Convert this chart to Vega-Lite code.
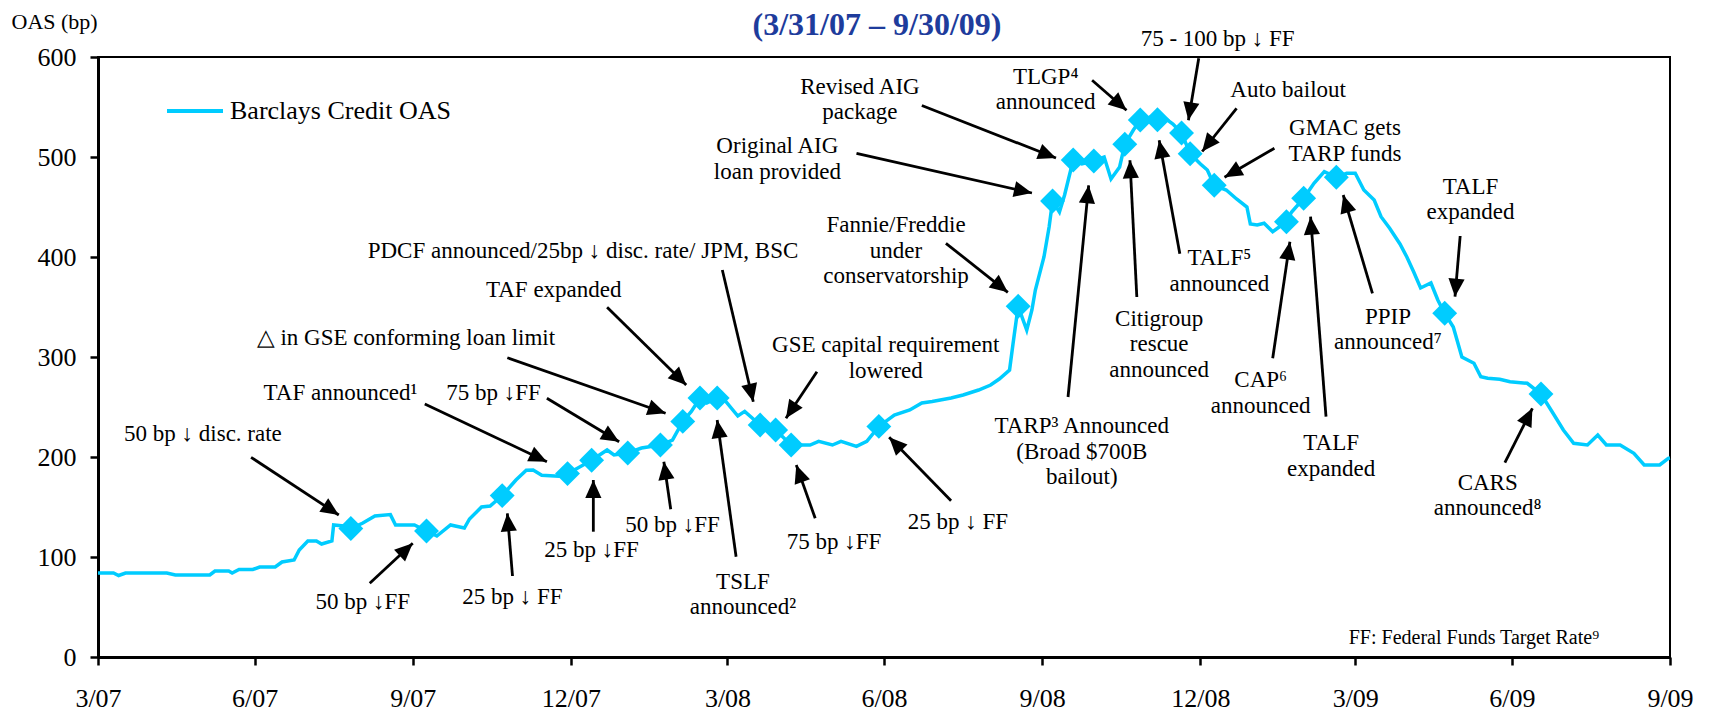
{
  "$schema": "https://vega.github.io/schema/vega-lite/v6.json",
  "width": 1572,
  "height": 600,
  "autosize": {"type": "none"},
  "padding": {"left": 98, "top": 57, "right": 39, "bottom": 56},
  "background": "white",
  "config": {
    "view": {"stroke": "black", "strokeWidth": 2},
    "font": "Liberation Serif"
  },
  "title": {
    "text": "(3/31/07 – 9/30/09)",
    "frame": "group",
    "font": "Liberation Serif",
    "fontSize": 32,
    "fontWeight": "bold",
    "color": "#1E3C9C",
    "anchor": "middle",
    "dx": -7,
    "offset": 14,
    "dy": 46
  },
  "datasets": {
    "oas": [
      {"date": "2007-03-31", "oas": 84},
      {"date": "2007-04-09", "oas": 84},
      {"date": "2007-04-12", "oas": 81.5},
      {"date": "2007-04-16", "oas": 84},
      {"date": "2007-04-28", "oas": 84},
      {"date": "2007-05-10", "oas": 84},
      {"date": "2007-05-15", "oas": 82},
      {"date": "2007-06-04", "oas": 82},
      {"date": "2007-06-07", "oas": 86},
      {"date": "2007-06-15", "oas": 86},
      {"date": "2007-06-17", "oas": 84},
      {"date": "2007-06-21", "oas": 87.5},
      {"date": "2007-06-29", "oas": 87.5},
      {"date": "2007-07-03", "oas": 90},
      {"date": "2007-07-12", "oas": 90},
      {"date": "2007-07-16", "oas": 95},
      {"date": "2007-07-23", "oas": 97},
      {"date": "2007-07-26", "oas": 107},
      {"date": "2007-07-31", "oas": 116},
      {"date": "2007-08-05", "oas": 116},
      {"date": "2007-08-08", "oas": 113},
      {"date": "2007-08-14", "oas": 116},
      {"date": "2007-08-15", "oas": 132},
      {"date": "2007-08-21", "oas": 131},
      {"date": "2007-08-25", "oas": 128.5},
      {"date": "2007-09-01", "oas": 134},
      {"date": "2007-09-08", "oas": 141},
      {"date": "2007-09-17", "oas": 142.4},
      {"date": "2007-09-20", "oas": 132},
      {"date": "2007-10-01", "oas": 132},
      {"date": "2007-10-08", "oas": 126},
      {"date": "2007-10-14", "oas": 121},
      {"date": "2007-10-22", "oas": 132},
      {"date": "2007-10-30", "oas": 129},
      {"date": "2007-11-02", "oas": 138},
      {"date": "2007-11-09", "oas": 150},
      {"date": "2007-11-14", "oas": 151},
      {"date": "2007-11-21", "oas": 161.4},
      {"date": "2007-11-29", "oas": 177},
      {"date": "2007-12-05", "oas": 186.7},
      {"date": "2007-12-09", "oas": 187},
      {"date": "2007-12-14", "oas": 181.7},
      {"date": "2007-12-24", "oas": 180.7},
      {"date": "2007-12-29", "oas": 183.4},
      {"date": "2008-01-04", "oas": 189},
      {"date": "2008-01-12", "oas": 196.7},
      {"date": "2008-01-21", "oas": 207},
      {"date": "2008-01-25", "oas": 202},
      {"date": "2008-02-02", "oas": 204},
      {"date": "2008-02-10", "oas": 209},
      {"date": "2008-02-21", "oas": 212},
      {"date": "2008-02-28", "oas": 217},
      {"date": "2008-03-05", "oas": 235.6},
      {"date": "2008-03-10", "oas": 245.6},
      {"date": "2008-03-15", "oas": 259},
      {"date": "2008-03-19", "oas": 254},
      {"date": "2008-03-25", "oas": 259},
      {"date": "2008-03-30", "oas": 255.6},
      {"date": "2008-04-06", "oas": 241},
      {"date": "2008-04-10", "oas": 245.6},
      {"date": "2008-04-19", "oas": 232},
      {"date": "2008-04-28", "oas": 227},
      {"date": "2008-05-07", "oas": 212},
      {"date": "2008-05-18", "oas": 212},
      {"date": "2008-05-23", "oas": 215.6},
      {"date": "2008-05-31", "oas": 212},
      {"date": "2008-06-05", "oas": 215.6},
      {"date": "2008-06-14", "oas": 210.6},
      {"date": "2008-06-20", "oas": 215.6},
      {"date": "2008-06-27", "oas": 230.6},
      {"date": "2008-07-06", "oas": 242},
      {"date": "2008-07-15", "oas": 247},
      {"date": "2008-07-22", "oas": 254},
      {"date": "2008-07-28", "oas": 255.6},
      {"date": "2008-08-08", "oas": 259},
      {"date": "2008-08-15", "oas": 262},
      {"date": "2008-08-24", "oas": 267},
      {"date": "2008-08-31", "oas": 272},
      {"date": "2008-09-05", "oas": 278},
      {"date": "2008-09-11", "oas": 287},
      {"date": "2008-09-13", "oas": 313},
      {"date": "2008-09-16", "oas": 350.7},
      {"date": "2008-09-21", "oas": 327},
      {"date": "2008-09-24", "oas": 347},
      {"date": "2008-09-26", "oas": 367},
      {"date": "2008-10-01", "oas": 400},
      {"date": "2008-10-04", "oas": 430},
      {"date": "2008-10-06", "oas": 456},
      {"date": "2008-10-10", "oas": 445},
      {"date": "2008-10-13", "oas": 462},
      {"date": "2008-10-17", "oas": 490},
      {"date": "2008-10-18", "oas": 497},
      {"date": "2008-10-23", "oas": 493},
      {"date": "2008-10-30", "oas": 496},
      {"date": "2008-11-05", "oas": 500},
      {"date": "2008-11-09", "oas": 478},
      {"date": "2008-11-14", "oas": 490},
      {"date": "2008-11-17", "oas": 512.7},
      {"date": "2008-11-22", "oas": 527},
      {"date": "2008-11-26", "oas": 537},
      {"date": "2008-12-02", "oas": 540},
      {"date": "2008-12-06", "oas": 537.3},
      {"date": "2008-12-11", "oas": 538},
      {"date": "2008-12-15", "oas": 533},
      {"date": "2008-12-20", "oas": 524},
      {"date": "2008-12-25", "oas": 503.3},
      {"date": "2008-12-31", "oas": 493},
      {"date": "2009-01-04", "oas": 487},
      {"date": "2009-01-08", "oas": 471.7},
      {"date": "2009-01-15", "oas": 467},
      {"date": "2009-01-21", "oas": 458},
      {"date": "2009-01-27", "oas": 450},
      {"date": "2009-01-29", "oas": 433},
      {"date": "2009-02-02", "oas": 432},
      {"date": "2009-02-06", "oas": 433.7},
      {"date": "2009-02-11", "oas": 425.3},
      {"date": "2009-02-19", "oas": 435.3},
      {"date": "2009-02-22", "oas": 445},
      {"date": "2009-03-01", "oas": 458.7},
      {"date": "2009-03-07", "oas": 473.7},
      {"date": "2009-03-13", "oas": 485.3},
      {"date": "2009-03-20", "oas": 479.7},
      {"date": "2009-03-26", "oas": 483.7},
      {"date": "2009-03-31", "oas": 483.7},
      {"date": "2009-04-05", "oas": 467},
      {"date": "2009-04-11", "oas": 457},
      {"date": "2009-04-15", "oas": 440.3},
      {"date": "2009-04-20", "oas": 428.7},
      {"date": "2009-04-26", "oas": 413},
      {"date": "2009-04-30", "oas": 400},
      {"date": "2009-05-04", "oas": 385},
      {"date": "2009-05-08", "oas": 369},
      {"date": "2009-05-14", "oas": 374},
      {"date": "2009-05-18", "oas": 357},
      {"date": "2009-05-22", "oas": 343.7},
      {"date": "2009-05-27", "oas": 330},
      {"date": "2009-06-01", "oas": 300},
      {"date": "2009-06-08", "oas": 293.7},
      {"date": "2009-06-12", "oas": 280.3},
      {"date": "2009-06-16", "oas": 278.7},
      {"date": "2009-06-23", "oas": 277.7},
      {"date": "2009-06-29", "oas": 275.3},
      {"date": "2009-07-09", "oas": 273.7},
      {"date": "2009-07-17", "oas": 263},
      {"date": "2009-07-24", "oas": 243.7},
      {"date": "2009-07-30", "oas": 227},
      {"date": "2009-08-05", "oas": 213.7},
      {"date": "2009-08-13", "oas": 212},
      {"date": "2009-08-19", "oas": 222},
      {"date": "2009-08-24", "oas": 212},
      {"date": "2009-09-01", "oas": 212},
      {"date": "2009-09-09", "oas": 203.7},
      {"date": "2009-09-15", "oas": 192},
      {"date": "2009-09-24", "oas": 192},
      {"date": "2009-09-29", "oas": 198.7},
      {"date": "2009-09-30", "oas": 199}
    ],
    "events": [
      {"date": "2007-08-25", "oas": 128.5},
      {"date": "2007-10-08", "oas": 126},
      {"date": "2007-11-21", "oas": 161.4},
      {"date": "2007-12-29", "oas": 183.4},
      {"date": "2008-01-12", "oas": 196.7},
      {"date": "2008-02-02", "oas": 204},
      {"date": "2008-02-21", "oas": 212},
      {"date": "2008-03-05", "oas": 235.6},
      {"date": "2008-03-15", "oas": 259},
      {"date": "2008-03-25", "oas": 259},
      {"date": "2008-04-19", "oas": 232},
      {"date": "2008-04-28", "oas": 227},
      {"date": "2008-05-07", "oas": 212},
      {"date": "2008-06-27", "oas": 230.6},
      {"date": "2008-09-16", "oas": 350.7},
      {"date": "2008-10-06", "oas": 456},
      {"date": "2008-10-18", "oas": 497},
      {"date": "2008-10-30", "oas": 496},
      {"date": "2008-11-17", "oas": 512.7},
      {"date": "2008-11-26", "oas": 537},
      {"date": "2008-12-06", "oas": 537.3},
      {"date": "2008-12-20", "oas": 524},
      {"date": "2008-12-25", "oas": 503.3},
      {"date": "2009-01-08", "oas": 471.7},
      {"date": "2009-02-19", "oas": 435.3},
      {"date": "2009-03-01", "oas": 458.7},
      {"date": "2009-03-20", "oas": 479.7},
      {"date": "2009-05-22", "oas": 343.7},
      {"date": "2009-07-17", "oas": 263}
    ],
    "arrows": [
      {"tx": "2007-06-28", "tv": 199.7, "hx": "2007-08-18", "hv": 142},
      {"tx": "2007-09-05", "tv": 73.7, "hx": "2007-09-30", "hv": 113.7},
      {"tx": "2007-10-07", "tv": 253, "hx": "2007-12-17", "hv": 195.3},
      {"tx": "2007-12-17", "tv": 258.7, "hx": "2008-01-28", "hv": 215.3},
      {"tx": "2007-11-27", "tv": 81, "hx": "2007-11-24", "hv": 143.7},
      {"tx": "2008-01-13", "tv": 125.3, "hx": "2008-01-13", "hv": 177},
      {"tx": "2008-02-27", "tv": 147.7, "hx": "2008-02-23", "hv": 195.3},
      {"tx": "2007-11-24", "tv": 299.3, "hx": "2008-02-24", "hv": 243.7},
      {"tx": "2008-01-21", "tv": 349.7, "hx": "2008-03-07", "hv": 272},
      {"tx": "2008-03-28", "tv": 387, "hx": "2008-04-15", "hv": 255.3},
      {"tx": "2008-04-05", "tv": 100.3, "hx": "2008-03-25", "hv": 237},
      {"tx": "2008-05-22", "tv": 285.3, "hx": "2008-05-04", "hv": 238.7},
      {"tx": "2008-05-21", "tv": 138.7, "hx": "2008-05-10", "hv": 192},
      {"tx": "2008-08-08", "tv": 156.3, "hx": "2008-07-03", "hv": 219.7},
      {"tx": "2008-08-05", "tv": 413.7, "hx": "2008-09-10", "hv": 364.7},
      {"tx": "2008-06-14", "tv": 503.7, "hx": "2008-09-24", "hv": 464},
      {"tx": "2008-07-22", "tv": 551.5, "hx": "2008-10-08", "hv": 499},
      {"tx": "2008-10-29", "tv": 576.7, "hx": "2008-11-18", "hv": 546.7},
      {"tx": "2008-12-30", "tv": 598.7, "hx": "2008-12-24", "hv": 536.7},
      {"tx": "2009-01-21", "tv": 548.7, "hx": "2009-01-01", "hv": 505.5},
      {"tx": "2009-02-12", "tv": 508.7, "hx": "2009-01-14", "hv": 479.7},
      {"tx": "2008-10-15", "tv": 260, "hx": "2008-10-27", "hv": 471.7},
      {"tx": "2008-11-24", "tv": 360, "hx": "2008-11-20", "hv": 496.7},
      {"tx": "2008-12-19", "tv": 403.3, "hx": "2008-12-07", "hv": 516.7},
      {"tx": "2009-02-11", "tv": 298.7, "hx": "2009-02-21", "hv": 415.3},
      {"tx": "2009-03-14", "tv": 240.3, "hx": "2009-03-05", "hv": 440.3},
      {"tx": "2009-04-10", "tv": 363.7, "hx": "2009-03-24", "hv": 462},
      {"tx": "2009-05-31", "tv": 421, "hx": "2009-05-28", "hv": 360.3},
      {"tx": "2009-06-26", "tv": 194.3, "hx": "2009-07-12", "hv": 248.7}
    ],
    "labels": [
      {"date": "2007-05-31", "oas": 223, "label": "50 bp ↓ disc. rate"},
      {"date": "2007-09-01", "oas": 55.3, "label": "50 bp ↓FF"},
      {"date": "2007-08-19", "oas": 263.7, "label": "TAF  announced¹"},
      {"date": "2007-11-16", "oas": 263.7, "label": "75 bp ↓FF"},
      {"date": "2007-11-27", "oas": 60.3, "label": "25 bp ↓ FF"},
      {"date": "2008-01-12", "oas": 107, "label": "25 bp ↓FF"},
      {"date": "2008-02-28", "oas": 132, "label": "50 bp ↓FF"},
      {"date": "2007-09-26", "oas": 318.7, "label": "△ in GSE conforming loan limit"},
      {"date": "2007-12-21", "oas": 367, "label": "TAF expanded"},
      {"date": "2008-01-07", "oas": 406.5, "label": "PDCF announced/25bp ↓ disc. rate/ JPM, BSC"},
      {"date": "2008-04-09", "oas": 75.3, "label": ["TSLF", "announced²"]},
      {"date": "2008-07-01", "oas": 312, "label": ["GSE capital requirement", "lowered"]},
      {"date": "2008-06-01", "oas": 115.3, "label": "75 bp ↓FF"},
      {"date": "2008-08-12", "oas": 135.3, "label": "25 bp ↓ FF"},
      {"date": "2008-07-07", "oas": 432, "label": ["Fannie/Freddie", "under", "conservatorship"]},
      {"date": "2008-04-29", "oas": 510.7, "label": ["Original AIG", "loan provided"]},
      {"date": "2008-06-16", "oas": 570.5, "label": ["Revised AIG", "package"]},
      {"date": "2008-10-02", "oas": 580.5, "label": ["TLGP⁴", "announced"]},
      {"date": "2009-01-10", "oas": 617.7, "label": "75 - 100 bp ↓ FF"},
      {"date": "2009-02-20", "oas": 566.7, "label": "Auto bailout"},
      {"date": "2009-03-25", "oas": 528.7, "label": ["GMAC gets", "TARP funds"]},
      {"date": "2008-10-23", "oas": 231, "label": ["TARP³ Announced", "(Broad $700B", "bailout)"]},
      {"date": "2008-12-07", "oas": 338.3, "label": ["Citigroup", "rescue", "announced"]},
      {"date": "2009-01-11", "oas": 398.7, "label": ["TALF⁵", "announced"]},
      {"date": "2009-02-04", "oas": 277, "label": ["CAP⁶", "announced"]},
      {"date": "2009-03-17", "oas": 213.7, "label": ["TALF", "expanded"]},
      {"date": "2009-04-19", "oas": 340.3, "label": ["PPIP", "announced⁷"]},
      {"date": "2009-06-06", "oas": 470.3, "label": ["TALF", "expanded"]},
      {"date": "2009-06-16", "oas": 174.3, "label": ["CARS", "announced⁸"]}
    ],
    "notes": [
      {"date": "2009-06-08", "oas": 18.7, "label": "FF: Federal Funds Target Rate⁹"}
    ]
  },
  "encoding": {
    "x": {
      "field": "date",
      "type": "temporal",
      "scale": {
        "type": "utc",
        "domain": [
          {"year": 2007, "month": 3, "date": 31, "utc": true},
          {"year": 2009, "month": 9, "date": 30, "utc": true}
        ]
      },
      "axis": {
        "title": null,
        "grid": false,
        "values": [
          {"year": 2007, "month": 3, "date": 31, "utc": true},
          {"year": 2007, "month": 6, "date": 30, "utc": true},
          {"year": 2007, "month": 9, "date": 30, "utc": true},
          {"year": 2007, "month": 12, "date": 31, "utc": true},
          {"year": 2008, "month": 3, "date": 31, "utc": true},
          {"year": 2008, "month": 6, "date": 30, "utc": true},
          {"year": 2008, "month": 9, "date": 30, "utc": true},
          {"year": 2008, "month": 12, "date": 31, "utc": true},
          {"year": 2009, "month": 3, "date": 31, "utc": true},
          {"year": 2009, "month": 6, "date": 30, "utc": true},
          {"year": 2009, "month": 9, "date": 30, "utc": true}
        ],
        "format": "%-m/%y",
        "labelFont": "Liberation Serif",
        "labelFontSize": 26,
        "labelColor": "black",
        "labelPadding": 20,
        "labelFlush": false,
        "labelOverlap": false,
        "labelBound": false,
        "tickColor": "black",
        "tickWidth": 2.5,
        "tickSize": 8,
        "domainColor": "black",
        "domainWidth": 3
      }
    },
    "y": {
      "field": "oas",
      "type": "quantitative",
      "scale": {"domain": [0, 600], "nice": false, "zero": true},
      "axis": {
        "title": "OAS  (bp)",
        "titleAngle": 0,
        "titleAlign": "left",
        "titleBaseline": "middle",
        "titleX": -87,
        "titleY": -36,
        "titleFont": "Liberation Serif",
        "titleFontSize": 22,
        "titleFontWeight": "normal",
        "titleColor": "black",
        "grid": false,
        "values": [0, 100, 200, 300, 400, 500, 600],
        "labelFont": "Liberation Serif",
        "labelFontSize": 26,
        "labelColor": "black",
        "labelPadding": 14,
        "tickColor": "black",
        "tickWidth": 2.5,
        "tickSize": 8,
        "domainColor": "black",
        "domainWidth": 3
      }
    }
  },
  "layer": [
    {
      "data": {"name": "oas"},
      "mark": {"type": "line", "strokeWidth": 3.5, "interpolate": "linear"},
      "encoding": {
        "color": {
          "datum": "Barclays Credit OAS",
          "type": "nominal",
          "scale": {"range": ["#00CCFF"]},
          "legend": {
            "title": null,
            "orient": "none",
            "legendX": 67,
            "legendY": 24,
            "padding": 0,
            "symbolType": "stroke",
            "symbolSize": 3136,
            "symbolStrokeWidth": 4,
            "labelFont": "Liberation Serif",
            "labelFontSize": 26,
            "labelColor": "black",
            "labelOffset": 5,
            "labelLimit": 0
          }
        }
      }
    },
    {
      "data": {"name": "events"},
      "mark": {"type": "point", "shape": "diamond", "filled": true, "size": 620, "color": "#00CCFF", "opacity": 1}
    },
    {
      "data": {"name": "arrows"},
      "mark": {"type": "rule", "color": "black", "strokeWidth": 2.8},
      "encoding": {
        "x": {"field": "tx", "type": "temporal"},
        "y": {"field": "tv", "type": "quantitative"},
        "x2": {"field": "hx"},
        "y2": {"field": "hv"}
      }
    },
    {
      "data": {"name": "arrows"},
      "transform": [
        {"calculate": "atan2((toDate(datum.hx) - toDate(datum.tx)) / 86400000 * 1572 / 914, datum.hv - datum.tv) * 180 / PI", "as": "ang"}
      ],
      "mark": {"type": "point", "shape": "M0,0L-0.45,1L0.45,1Z", "filled": true, "color": "black", "size": 1296, "opacity": 1},
      "encoding": {
        "x": {"field": "hx", "type": "temporal"},
        "y": {"field": "hv", "type": "quantitative"},
        "angle": {"field": "ang", "type": "quantitative", "scale": null}
      }
    },
    {
      "data": {"name": "labels"},
      "mark": {"type": "text", "font": "Liberation Serif", "fontSize": 23, "align": "center", "baseline": "middle", "lineHeight": 25.5, "color": "black"},
      "encoding": {
        "text": {"field": "label", "type": "nominal"}
      }
    },
    {
      "data": {"name": "notes"},
      "mark": {"type": "text", "font": "Liberation Serif", "fontSize": 20, "align": "center", "baseline": "middle", "color": "black"},
      "encoding": {
        "text": {"field": "label", "type": "nominal"}
      }
    }
  ]
}
